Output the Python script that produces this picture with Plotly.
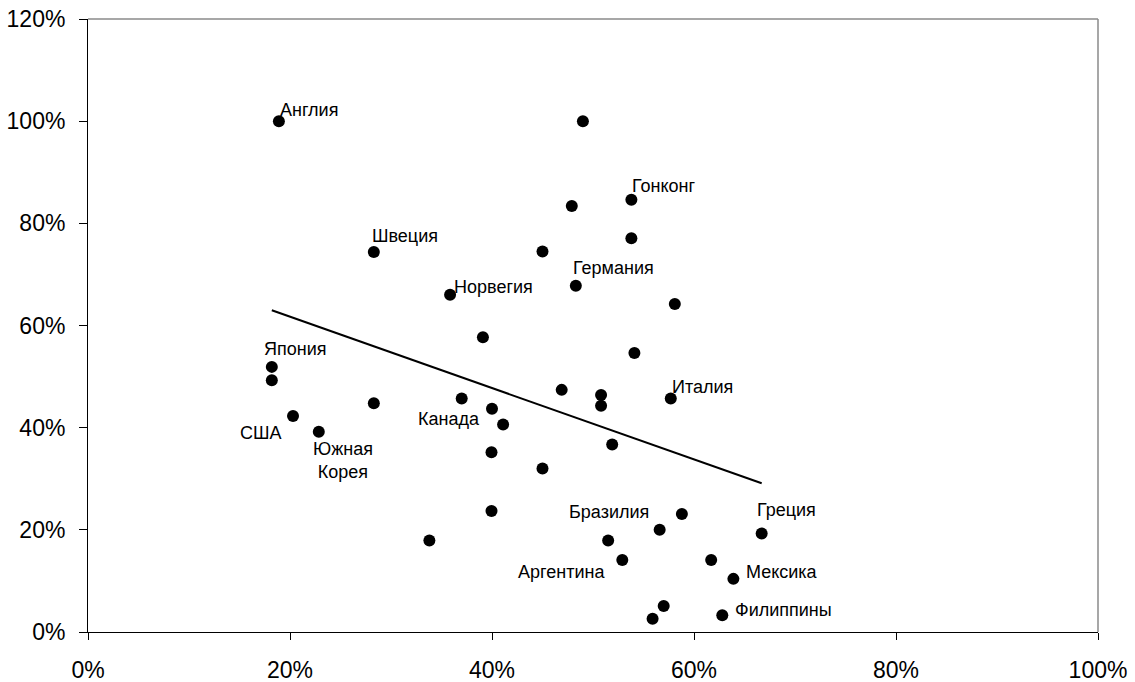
import numpy as np
import plotly.graph_objects as go

# ---- data (percent) ----
x_vals = [18.9, 28.3, 49.0, 53.8, 47.9, 53.8, 45.0, 48.3, 35.85, 58.1,
          39.1, 54.1, 46.9, 50.8, 50.8, 57.7, 37.0, 40.0, 41.1, 51.9,
          39.95, 45.0, 39.95, 58.8, 56.6, 66.7, 33.8, 51.5, 52.9, 61.7,
          63.9, 57.0, 55.9, 62.8, 18.2, 18.2, 20.3, 22.85, 28.3]
y_vals = [100.0, 74.4, 100.0, 84.6, 83.4, 77.1, 74.5, 67.8, 66.0, 64.2,
          57.7, 54.6, 47.4, 46.4, 44.3, 45.7, 45.7, 43.7, 40.6, 36.7,
          35.2, 32.0, 23.7, 23.1, 20.0, 19.3, 17.9, 17.9, 14.1, 14.1,
          10.4, 5.1, 2.6, 3.3, 51.9, 49.3, 42.3, 39.2, 44.8]
labels = ["Англия", "Швеция", "", "Гонконг", "", "", "", "Германия", "Норвегия", "",
          "", "", "", "", "", "Италия", "", "Канада", "", "",
          "", "", "", "", "", "Греция", "", "Бразилия", "Аргентина", "",
          "Мексика", "", "", "Филиппины", "Япония", "", "США", "Южная<br>Корея", ""]
x_ticks = [0, 20, 40, 60, 80, 100]
y_ticks = [0, 20, 40, 60, 80, 100, 120]

# ---- label placement (style) ----
label_style = {
    "Англия": ("left", 0, 11),
    "Швеция": ("left", -3, 16),
    "Гонконг": ("left", 0, 14),
    "Германия": ("left", -4, 18),
    "Норвегия": ("left", 3, 8),
    "Италия": ("left", 0, 12),
    "Канада": ("right", -11, -10),
    "Япония": ("left", -9, 18),
    "США": ("right", -10, -17),
    "Южная<br>Корея": ("center", 24, -29),
    "Бразилия": ("center", 1, 29),
    "Греция": ("left", -6, 23),
    "Аргентина": ("right", -16, -12),
    "Мексика": ("left", 12, 7),
    "Филиппины": ("left", 12, 5),
}

FONT = "Liberation Sans, Arial, sans-serif"

# linear trend (least squares) over the data range
xa = np.array(x_vals)
ya = np.array(y_vals)
k, b = np.polyfit(xa, ya, 1)
tx = np.array([xa.min(), xa.max()])
ty = k * tx + b

fig = go.Figure()
fig.add_trace(go.Scatter(x=x_vals, y=y_vals, mode="markers",
                         marker=dict(color="black", size=12, line=dict(width=0)),
                         showlegend=False, hoverinfo="x+y"))
fig.add_trace(go.Scatter(x=tx, y=ty, mode="lines",
                         line=dict(color="black", width=2),
                         showlegend=False, hoverinfo="skip"))

annotations = []
for xv, yv, lab in zip(x_vals, y_vals, labels):
    if not lab:
        continue
    anchor, dx, dy = label_style[lab]
    annotations.append(dict(x=xv, y=yv, xref="x", yref="y", text=lab,
                            showarrow=False, xanchor=anchor, yanchor="middle",
                            xshift=dx, yshift=dy, borderpad=0,
                            font=dict(family=FONT, size=18, color="black")))

fig.update_layout(
    width=1135, height=682,
    margin=dict(l=88, r=37, t=19, b=50, autoexpand=False),
    paper_bgcolor="white", plot_bgcolor="white",
    font=dict(family=FONT, color="black"),
    annotations=annotations,
    shapes=[
        dict(type="line", xref="paper", yref="paper", x0=0, x1=1, y0=1, y1=1,
             line=dict(color="#8a8a8a", width=1.5)),
        dict(type="line", xref="paper", yref="paper", x0=1, x1=1, y0=0, y1=1,
             line=dict(color="#8a8a8a", width=1.5)),
    ],
)
fig.update_xaxes(range=[0, 100], tickvals=x_ticks, ticktext=[f"{v}%" for v in x_ticks],
                 showgrid=False, zeroline=False, showline=True, linecolor="black",
                 linewidth=1, ticks="outside", ticklen=7, tickcolor="black",
                 tickfont=dict(family=FONT, size=23, color="black"),
                 ticklabelstandoff=10, automargin=False)
fig.update_yaxes(range=[0, 120], tickvals=y_ticks, ticktext=[f"{v}%" for v in y_ticks],
                 showgrid=False, zeroline=False, showline=True, linecolor="black",
                 linewidth=1, ticks="outside", ticklen=8, tickcolor="black",
                 tickfont=dict(family=FONT, size=23, color="black"),
                 ticklabelstandoff=9, automargin=False)

# remove the default page margin so the 1135x682 figure fills the window exactly
fig.write_html("out.html", config={"displayModeBar": False},
               post_script="document.body.style.margin='0';")
